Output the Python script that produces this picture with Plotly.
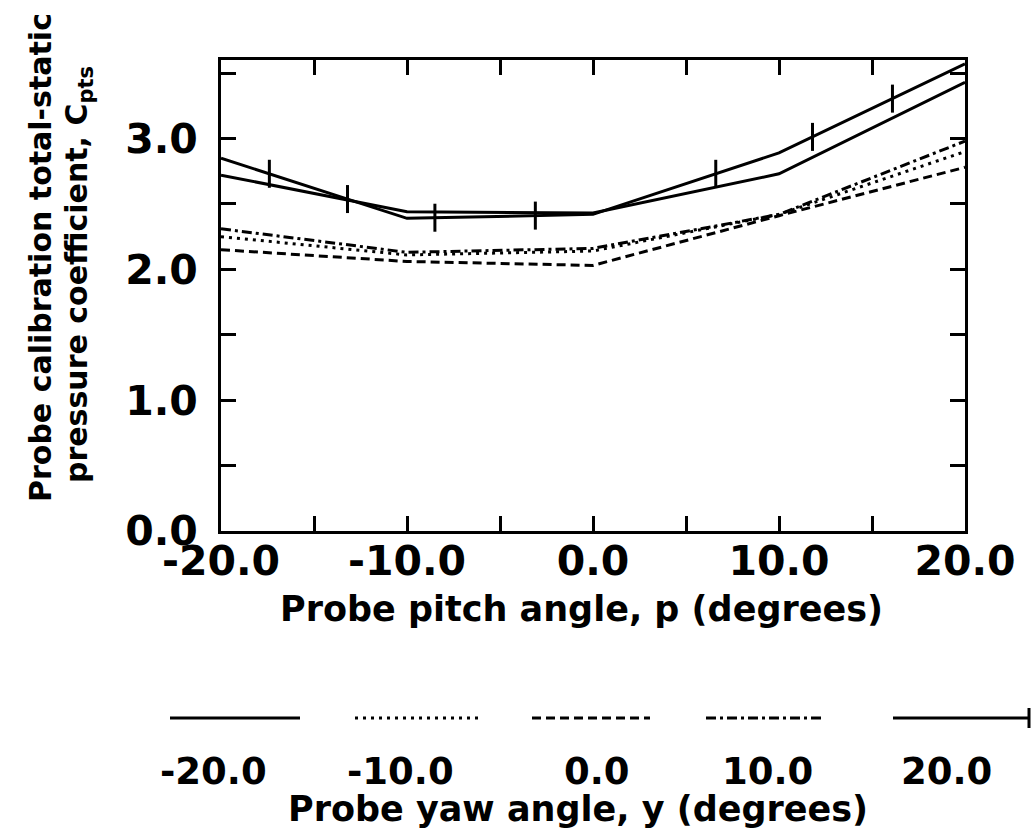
import numpy as np
import plotly.graph_objects as go

# ---- data ----
pitch = [-20.0, -10.0, 0.0, 10.0, 20.0]
cp_yaw_m20 = [2.72, 2.44, 2.43, 2.73, 3.43]
cp_yaw_m10 = [2.25, 2.11, 2.14, 2.42, 2.90]
cp_yaw_0 = [2.15, 2.06, 2.03, 2.41, 2.78]
cp_yaw_10 = [2.31, 2.13, 2.16, 2.42, 2.98]
cp_yaw_20 = [2.85, 2.39, 2.42, 2.89, 3.57]

yaw_labels = ["-20.0", "-10.0", "0.0", "10.0", "20.0"]
x_tick_vals = [-20, -15, -10, -5, 0, 5, 10, 15, 20]
x_tick_text = ["-20.0", "", "-10.0", "", "0.0", "", "10.0", "", "20.0"]
y_tick_vals = [0, 0.5, 1.0, 1.5, 2.0, 2.5, 3.0, 3.5]
y_tick_text = ["0.0", "", "1.0", "", "2.0", "", "3.0", ""]

# decoration: positions of the small crossbars drawn along the +20 yaw curve
crossbar_x = [-17.4, -13.2, -8.5, -3.1, 6.6, 11.8, 16.1]

FONT = "DejaVu Sans"
BLACK = "black"
LW = 3

series = [
    (cp_yaw_m20, "solid"),
    (cp_yaw_m10, "3px,5px"),
    (cp_yaw_0, "9px,5px"),
    (cp_yaw_10, "10px,4px,3px,4px"),
    (cp_yaw_20, "solid"),
]

fig = go.Figure()
for vals, dash in series:
    fig.add_trace(go.Scatter(x=pitch, y=vals, mode="lines",
                             line=dict(color=BLACK, width=LW, dash=dash),
                             showlegend=False, hoverinfo="skip"))

fig.add_trace(go.Scatter(
    x=crossbar_x, y=np.interp(crossbar_x, pitch, cp_yaw_20), mode="markers",
    marker=dict(symbol="line-ns", size=20, line=dict(color=BLACK, width=3)),
    showlegend=False, hoverinfo="skip"))

# plot area in pixels: x 221..965, y 60..531
L, R, T, B = 221, 70, 60, 303
W, H = 1035, 834
PW, PH = W - L - R, H - T - B


def px(xp):
    return (xp - L) / PW


def py(yp):
    return (H - B - yp) / PH


def bold(size):
    return dict(family=FONT, size=size, color=BLACK, weight="bold")


annotations = []
shapes = []

# x axis title
annotations.append(dict(text="Probe pitch angle, p (degrees)", x=px(581), y=py(609),
                        xref="paper", yref="paper", showarrow=False,
                        xanchor="center", yanchor="middle", font=bold(35)))
# y axis title (two lines)
annotations.append(dict(text="Probe calibration total-static", x=px(40), y=py(258),
                        xref="paper", yref="paper", showarrow=False, textangle=-90,
                        xanchor="center", yanchor="middle", font=bold(30)))
annotations.append(dict(text="pressure coefficient, C<sub>pts</sub>", x=px(78), y=py(275),
                        xref="paper", yref="paper", showarrow=False, textangle=-90,
                        xanchor="center", yanchor="middle", font=bold(30)))

# legend drawn under the chart: samples, labels and title
sample_x = [(170, 300), (355, 480), (532, 650), (706, 825), (893, 1029)]
label_cx = [213, 400, 597, 767, 946]
sample_y = 718
for (x0, x1), (_, dash), lab, cx in zip(sample_x, series, yaw_labels, label_cx):
    shapes.append(dict(type="line", xref="paper", yref="paper",
                       x0=px(x0), x1=px(x1), y0=py(sample_y), y1=py(sample_y),
                       line=dict(color=BLACK, width=LW, dash=dash)))
    annotations.append(dict(text=lab, x=px(cx), y=py(771), xref="paper", yref="paper",
                            showarrow=False, xanchor="center", yanchor="middle",
                            font=bold(37)))
shapes.append(dict(type="line", xref="paper", yref="paper",
                   x0=px(1029), x1=px(1029), y0=py(708), y1=py(728),
                   line=dict(color=BLACK, width=3)))
annotations.append(dict(text="Probe yaw angle, y (degrees)", x=px(578), y=py(809),
                        xref="paper", yref="paper", showarrow=False,
                        xanchor="center", yanchor="middle", font=bold(35)))

axis_common = dict(showline=True, linecolor=BLACK, linewidth=3, mirror="ticks",
                   ticks="inside", ticklen=15, tickwidth=3, tickcolor=BLACK,
                   showgrid=False, zeroline=False, tickfont=bold(41))

fig.update_layout(
    width=W, height=H,
    margin=dict(l=L, r=R, t=T, b=B),
    paper_bgcolor="white", plot_bgcolor="white",
    xaxis=dict(range=[-20, 20], tickmode="array", tickvals=x_tick_vals,
               ticktext=x_tick_text, ticklabelstandoff=-8, **axis_common),
    yaxis=dict(range=[0, 3.6], tickmode="array", tickvals=y_tick_vals,
               ticktext=y_tick_text, ticklabelstandoff=12, **axis_common),
    annotations=annotations, shapes=shapes,
)

fig.write_html("out.html", config={"displayModeBar": False},
               post_script="document.body.style.margin='0';")
